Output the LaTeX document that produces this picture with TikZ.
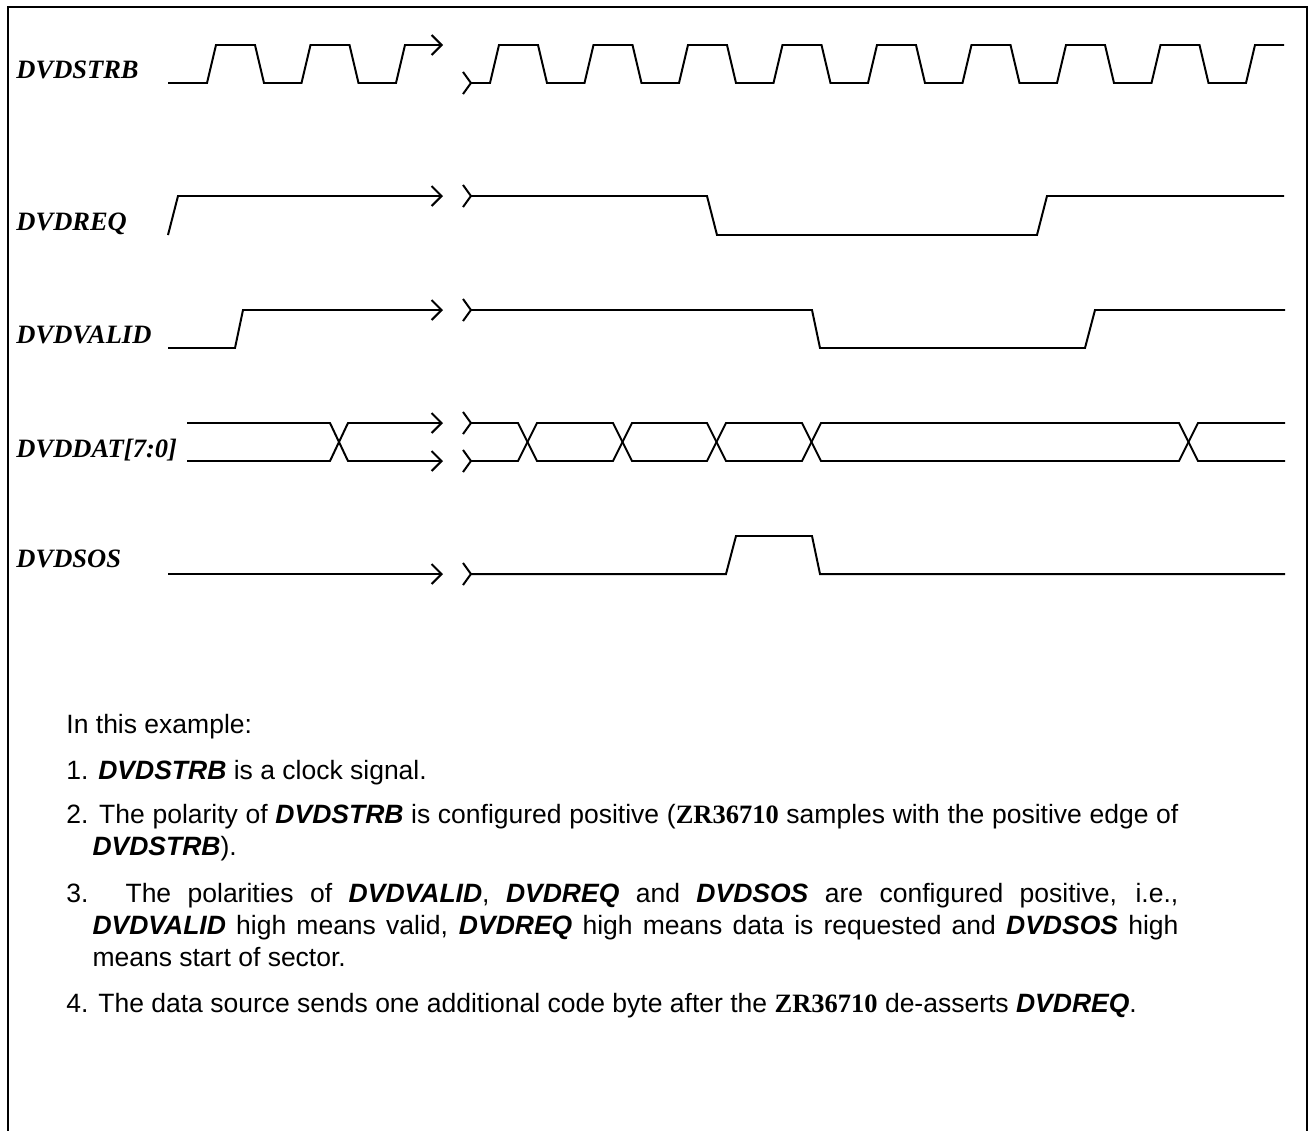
\documentclass[tikz,border=0pt]{standalone}
\usepackage{fontspec}
\setmainfont{Liberation Sans}
\newfontfamily\serifbold{Liberation Serif}
\usepackage{tikz}
\usetikzlibrary{arrows.meta,positioning}

\tikzset{
  wave/.style={line width=0.9pt, line join=miter},
  endbreak/.style={-{Straight Barb[length=4.5pt,width=9pt]}},
  startbreak/.style={{Straight Barb[reversed,length=3.6pt,width=10pt]}-},
  siglabel/.style={anchor=base west, inner sep=0pt, font=\serifbold\bfseries\itshape\fontsize{12}{14}\selectfont},
  notebox/.style={anchor=base west, inner sep=0pt, text width=503.5pt, align=justify, font=\fontsize{12}{14.5}\selectfont}
}
\newcommand{\sig}[1]{\textbf{\textit{#1}}}
\newcommand{\chipname}{{\serifbold\bfseries ZR36710}}

\begin{document}
\begin{tikzpicture}[x=0.4528pt, y=-0.4528pt]
    \useasboundingbox (0,0) rectangle (1309,1131);

    % Frame
    \draw[line width=1.2pt] (8,1131) -- (8,7) -- (1307,7) -- (1307,1131);

    % Signal names
    \node[siglabel] (lblstrb) at (16,78) {DVDSTRB};
    \node[siglabel] (lblreq) at (16,230) {DVDREQ};
    \node[siglabel] (lblvalid) at (16,343) {DVDVALID};
    \node[siglabel] (lbldat) at (16,457) {DVDDAT[7:0]};
    \node[siglabel] (lblsos) at (16,567) {DVDSOS};

    % DVDSTRB
    \draw[wave, endbreak] (168,83) foreach \r in {207,301.5} { -- (\r,83) -- (\r+9,45) -- (\r+48,45) -- (\r+57,83) } -- (396,83) -- (405,45) -- (443,45);
    \draw[wave, startbreak] (462,83) foreach \r in {490,584.5,679,773.5,868,962.5,1057,1151.5} { -- (\r,83) -- (\r+9,45) -- (\r+48,45) -- (\r+57,83) } -- (1246,83) -- (1255,45) -- (1284,45);

    % DVDREQ
    \draw[wave, endbreak] (168,235) -- (178,196) -- (443,196);
    \draw[wave, startbreak] (462,196) -- (707,196) -- (717,235) -- (1037,235) -- (1047,196) -- (1284,196);

    % DVDVALID
    \draw[wave, endbreak] (168,348) -- (235,348) -- (243,310) -- (443,310);
    \draw[wave, startbreak] (462,310) -- (812,310) -- (820,348) -- (1085,348) -- (1095,310) -- (1285,310);

    % DVDDAT[7:0]
    \draw[wave, endbreak] (187,423) -- (330,423) -- (348,461) -- (443,461);
    \draw[wave, endbreak] (187,461) -- (330,461) -- (348,423) -- (443,423);
    \draw[wave, startbreak] (462,423) -- (518,423) -- (537,461) -- (613,461) -- (632,423) -- (707,423) -- (726,461) -- (802,461) -- (821,423) -- (1179,423) -- (1198,461) -- (1285,461);
    \draw[wave, startbreak] (462,461) -- (518,461) -- (537,423) -- (613,423) -- (632,461) -- (707,461) -- (726,423) -- (802,423) -- (821,461) -- (1179,461) -- (1198,423) -- (1285,423);

    % DVDSOS
    \draw[wave, endbreak] (168,574) -- (443,574);
    \draw[wave, startbreak] (462,574) -- (726,574) -- (736,536) -- (812,536) -- (820,574) -- (1285,574);

    % Notes
    \node[notebox] (intro) at (66,733) {In this example:};
    \node[notebox] (note1) at (66,779) {1. \sig{DVDSTRB} is a clock signal.};
    \node[notebox] (note2) at (66,823) {\hangindent=11.8pt\hangafter=1 2. The polarity of \sig{DVDSTRB} is configured positive (\chipname{} samples with the positive edge of\linebreak \sig{DVDSTRB}).\par};
    \node[notebox] (note3) at (66,902) {\hangindent=11.8pt\hangafter=1 3. The polarities of \sig{DVDVALID}, \sig{DVDREQ} and \sig{DVDSOS} are configured positive, i.e.,\linebreak \sig{DVDVALID} high means valid, \sig{DVDREQ} high means data is requested and \sig{DVDSOS} high\linebreak means start of sector.\par};
    \node[notebox] (note4) at (66,1012) {4. The data source sends one additional code byte after the \chipname{} de-asserts \sig{DVDREQ}.};
\end{tikzpicture}
\end{document}
